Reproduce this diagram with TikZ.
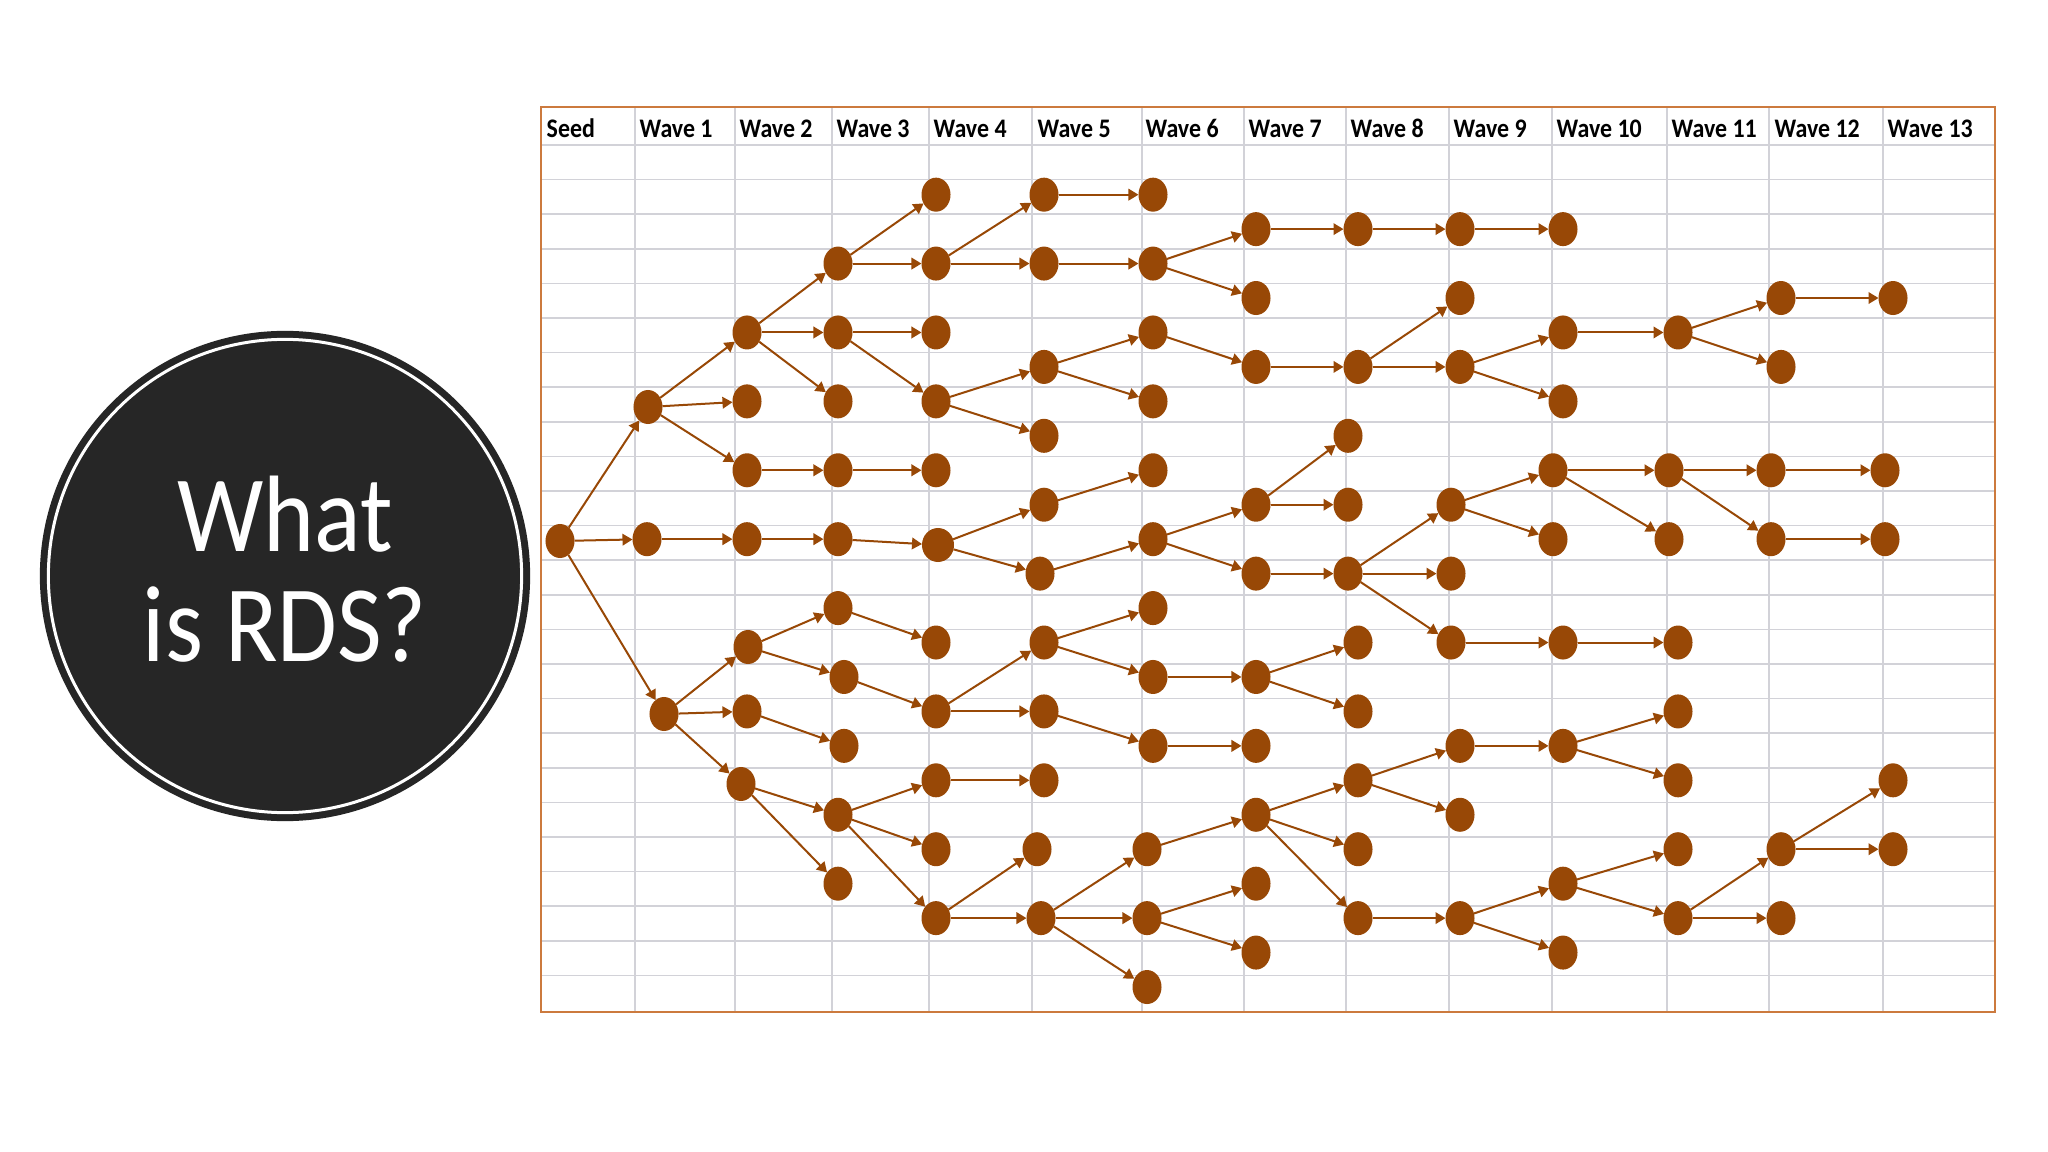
\documentclass[tikz,border=0pt]{standalone}
\usepackage{fontspec}
\usepackage{graphicx}
\setmainfont{Carlito}
\usetikzlibrary{shapes.geometric,arrows.meta}
\definecolor{nodebrown}{RGB}{152,72,6}
\definecolor{gridgray}{RGB}{210,210,216}
\definecolor{frameorange}{RGB}{204,122,62}
\definecolor{discdark}{RGB}{38,38,38}
\newcommand{\mknode}[3]{\node[dot] (#1) at (#2,{143+34.45*(#3-0.5)}) {};}
\begin{document}
\begin{tikzpicture}[x=0.01cm,y=-0.01cm,
  dot/.style={ellipse, fill=nodebrown, draw=none, minimum width=0.29cm, minimum height=0.34cm, inner sep=0pt, outer sep=0pt},
  arr/.style={draw=nodebrown, line width=0.02cm, -{Triangle[length=0.1cm,width=0.115cm]}},
  gridline/.style={draw=gridgray, line width=0.015cm},
  hdr/.style={anchor=base west, inner sep=0pt, font=\fontsize{6.8pt}{8pt}\selectfont\bfseries},
  big/.style={anchor=base, inner sep=0pt, text=white, font=\fontsize{27.6pt}{31pt}\selectfont}]
\useasboundingbox (0,0) rectangle (2048,1152);
\fill[white] (0,0) rectangle (2048,1152);

% title disc
\node[circle, fill=discdark, minimum size=4.9cm, inner sep=0pt] (disc) at (285,576) {};
\node[circle, draw=white, line width=0.03cm, minimum size=4.73cm, inner sep=0pt] (ring) at (285,576) {};
\node[big] (t1) at (285,551) {\scalebox{1}[1.12]{What}};
\node[big] (t2) at (285,661) {\scalebox{1}[1.12]{is RDS?}};

% grid
\foreach \k in {0,...,24} \draw[gridline] (541,{145+34.6*\k}) -- (1995,{145+34.6*\k});
\foreach \x in {635,735,832,929,1032,1142,1244,1346,1449,1552,1667,1769,1883} \draw[gridline] (\x,107) -- (\x,1012);
\draw[frameorange, line width=0.025cm] (541,107) rectangle (1995,1012);

% headers
\foreach \x/\t [count=\i] in {546/Seed,639/Wave 1,739/Wave 2,836/Wave 3,933/Wave 4,1037/Wave 5,1145/Wave 6,1248/Wave 7,1350/Wave 8,1453/Wave 9,1556/Wave 10,1671/Wave 11,1774/Wave 12,1887/Wave 13}
  \node[hdr] (hdr\i) at (\x,138) {\scalebox{1}[1.12]{\t}};

% nodes
\node[dot] (s) at (560,541) {};
\node[dot] (w1r8) at (648,407) {};
\mknode{w1r12}{647}{12}
\node[dot] (w1r17) at (664,714) {};
\foreach \r in {6,8,10,12,17} {\mknode{w2r\r}{747}{\r}}
\node[dot] (w2r15) at (748,647) {};
\node[dot] (w2r19) at (741,784) {};
\foreach \r in {4,6,8,10,12,14,20,22} {\mknode{w3r\r}{838}{\r}}
\foreach \r in {16,18} {\mknode{w3r\r}{844}{\r}}
\foreach \r in {2,4,6,8,10,15,17,19,21,23} {\mknode{w4r\r}{936}{\r}}
\node[dot, minimum width=0.32cm] (w4r12) at (938,545) {};
\foreach \r in {2,4,7,9,11,15,17,19} {\mknode{w5r\r}{1044}{\r}}
\mknode{w5r13}{1040}{13}
\mknode{w5r21}{1037}{21}
\mknode{w5r23}{1041}{23}
\foreach \r in {2,4,6,8,10,12,14,16,18} {\mknode{w6r\r}{1153}{\r}}
\foreach \r in {21,23,25} {\mknode{w6r\r}{1147}{\r}}
\foreach \r in {3,5,7,11,13,16,18,20,22,24} {\mknode{w7r\r}{1256}{\r}}
\foreach \r in {3,7,15,17,19,21,23} {\mknode{w8r\r}{1358}{\r}}
\foreach \r in {9,11,13} {\mknode{w8r\r}{1348}{\r}}
\foreach \r in {3,5,7,18,20,23} {\mknode{w9r\r}{1460}{\r}}
\foreach \r in {11,13,15} {\mknode{w9r\r}{1451}{\r}}
\foreach \r in {3,6,8,15,18,22,24} {\mknode{w10r\r}{1563}{\r}}
\foreach \r in {10,12} {\mknode{w10r\r}{1553}{\r}}
\foreach \r in {6,15,17,19,21,23} {\mknode{w11r\r}{1678}{\r}}
\foreach \r in {10,12} {\mknode{w11r\r}{1669}{\r}}
\foreach \r in {5,7,21,23} {\mknode{w12r\r}{1781}{\r}}
\foreach \r in {10,12} {\mknode{w12r\r}{1771}{\r}}
\foreach \r in {5,19,21} {\mknode{w13r\r}{1893}{\r}}
\foreach \r in {10,12} {\mknode{w13r\r}{1885}{\r}}

% connectors
\foreach \a/\b in {
 s/w1r8, s/w1r12, s/w1r17,
 w1r8/w2r6, w1r8/w2r8, w1r8/w2r10,
 w1r12/w2r12,
 w1r17/w2r15, w1r17/w2r17, w1r17/w2r19,
 w2r6/w3r4, w2r6/w3r6, w2r6/w3r8,
 w2r10/w3r10, w2r12/w3r12,
 w2r15/w3r14, w2r15/w3r16,
 w2r17/w3r18,
 w2r19/w3r20, w2r19/w3r22,
 w3r4/w4r2, w3r4/w4r4,
 w3r6/w4r6, w3r6/w4r8,
 w3r10/w4r10, w3r12/w4r12,
 w3r14/w4r15, w3r16/w4r17,
 w3r20/w4r19, w3r20/w4r21, w3r20/w4r23,
 w4r4/w5r2, w4r4/w5r4,
 w4r8/w5r7, w4r8/w5r9,
 w4r12/w5r11, w4r12/w5r13,
 w4r17/w5r15, w4r17/w5r17,
 w4r19/w5r19,
 w4r23/w5r21, w4r23/w5r23,
 w5r2/w6r2, w5r4/w6r4,
 w5r7/w6r6, w5r7/w6r8,
 w5r11/w6r10, w5r13/w6r12,
 w5r15/w6r14, w5r15/w6r16,
 w5r17/w6r18,
 w5r23/w6r21, w5r23/w6r23, w5r23/w6r25,
 w6r4/w7r3, w6r4/w7r5,
 w6r6/w7r7,
 w6r12/w7r11, w6r12/w7r13,
 w6r16/w7r16, w6r18/w7r18,
 w6r21/w7r20,
 w6r23/w7r22, w6r23/w7r24,
 w7r3/w8r3, w7r7/w8r7,
 w7r11/w8r9, w7r11/w8r11,
 w7r13/w8r13,
 w7r16/w8r15, w7r16/w8r17,
 w7r20/w8r19, w7r20/w8r21, w7r20/w8r23,
 w8r3/w9r3,
 w8r7/w9r5, w8r7/w9r7,
 w8r13/w9r11, w8r13/w9r13, w8r13/w9r15,
 w8r19/w9r18, w8r19/w9r20,
 w8r23/w9r23,
 w9r3/w10r3,
 w9r7/w10r6, w9r7/w10r8,
 w9r11/w10r10, w9r11/w10r12,
 w9r15/w10r15, w9r18/w10r18,
 w9r23/w10r22, w9r23/w10r24,
 w10r6/w11r6,
 w10r10/w11r10, w10r10/w11r12,
 w10r15/w11r15,
 w10r18/w11r17, w10r18/w11r19,
 w10r22/w11r21, w10r22/w11r23,
 w11r6/w12r5, w11r6/w12r7,
 w11r10/w12r10, w11r10/w12r12,
 w11r23/w12r21, w11r23/w12r23,
 w12r5/w13r5, w12r10/w13r10, w12r12/w13r12,
 w12r21/w13r19, w12r21/w13r21}
  \draw[arr] (\a) -- (\b);
\end{tikzpicture}
\end{document}
